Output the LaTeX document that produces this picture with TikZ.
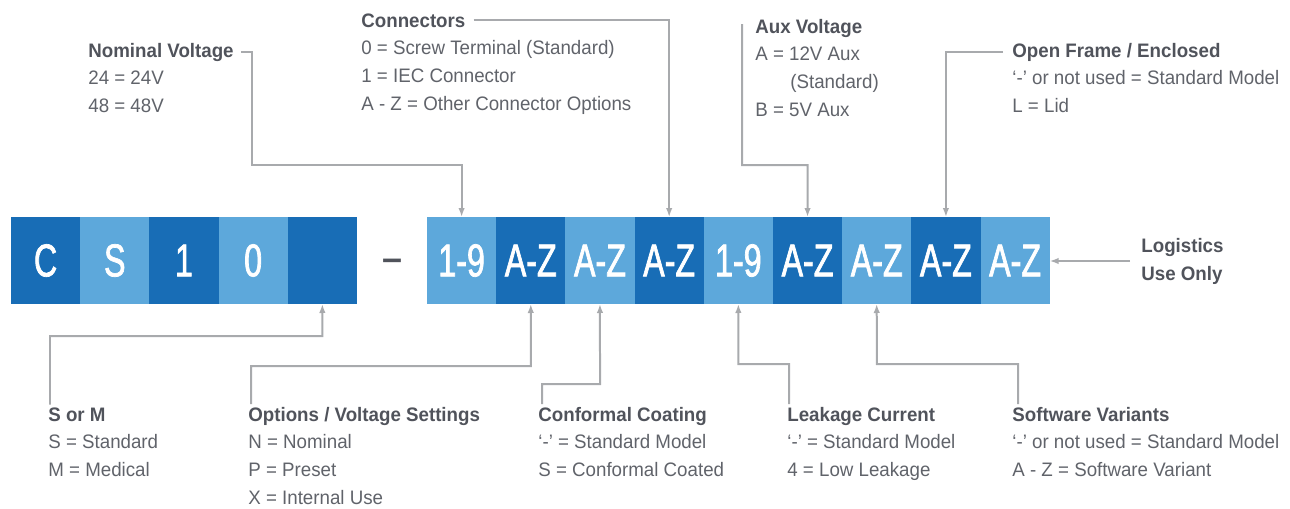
\documentclass[tikz,border=0pt]{standalone}
\usepackage{fontspec}
\setmainfont{Liberation Sans}
\newfontfamily\lblfont[FakeStretch=0.96]{Liberation Sans}
\newfontfamily\boxfont[FakeStretch=0.7, FakeBold=1.5]{Liberation Sans}
\usetikzlibrary{positioning, arrows.meta}
\definecolor{codedark}{RGB}{24,109,182}
\definecolor{codelight}{RGB}{93,168,219}
\definecolor{titlegray}{RGB}{80,83,91}
\definecolor{textgray}{RGB}{96,99,106}
\definecolor{linegray}{RGB}{168,170,173}

\begin{document}
\begin{tikzpicture}[x=0.02cm, y=-0.02cm,
  darkb/.style={fill=codedark, text=white, inner sep=0pt, outer sep=0pt,
                minimum width=1.384cm, minimum height=1.74cm,
                font=\boxfont\fontsize{26.2}{30}\selectfont},
  lightb/.style={darkb, fill=codelight},
  titlet/.style={inner sep=0pt, anchor=base west, text=titlegray,
                 font=\lblfont\bfseries\fontsize{11.1}{15.9}\selectfont},
  bodyt/.style={inner sep=0pt, anchor=north west, align=left, text=textgray,
                font=\lblfont\fontsize{11.1}{15.9}\selectfont},
  arr/.style={-{Latex[length=0.18cm, width=0.13cm]}, draw=linegray,
              line width=0.04cm, shorten <=0.05cm},
]
\useasboundingbox (0,0) rectangle (1290,508);

% Prefix boxes
\node[darkb] (pC) at (45.6,260.5) {C};
\node[lightb, right=0pt of pC] (pS) {S};
\node[darkb, right=0pt of pS] (p1) {1};
\node[lightb, right=0pt of p1] (p0) {0};
\node[darkb, right=0pt of p0] (pV) {};

% Separator
\node[anchor=base, text=titlegray, inner sep=0pt,
      font=\bfseries\fontsize{20.4}{24}\selectfont] (dash) at (392,270) {–};

% Suffix boxes
\node[lightb] (s1) at (461.6,260.5) {1-9};
\node[darkb, right=0pt of s1] (s2) {A-Z};
\node[lightb, right=0pt of s2] (s3) {A-Z};
\node[darkb, right=0pt of s3] (s4) {A-Z};
\node[lightb, right=0pt of s4] (s5) {1-9};
\node[darkb, right=0pt of s5] (s6) {A-Z};
\node[lightb, right=0pt of s6] (s7) {A-Z};
\node[darkb, right=0pt of s7] (s8) {A-Z};
\node[lightb, right=0pt of s8] (s9) {A-Z};

% Upper labels
\node[titlet] (nomT) at (88,57) {Nominal Voltage};
\node[bodyt, below=0.27cm of nomT.base west, anchor=north west] (nomB) {24 = 24V\\48 = 48V};

\node[titlet] (conT) at (361,27) {Connectors};
\node[bodyt, below=0.27cm of conT.base west, anchor=north west] (conB)
  {0 = Screw Terminal (Standard)\\1 = IEC Connector\\A - Z = Other Connector Options};

\node[titlet] (auxT) at (755,33) {Aux Voltage};
\node[bodyt, below=0.27cm of auxT.base west, anchor=north west] (auxB)
  {A = 12V Aux\\\hspace*{0.7cm}(Standard)\\B = 5V Aux};

\node[titlet] (openT) at (1012,57) {Open Frame / Enclosed};
\node[bodyt, below=0.27cm of openT.base west, anchor=north west] (openB)
  {‘-’ or not used = Standard Model\\L = Lid};

\node[titlet, anchor=west, align=left] (logT) at (1141,261) {Logistics\\Use Only};

% Lower labels
\node[titlet] (smT) at (48,421) {S or M};
\node[bodyt, below=0.27cm of smT.base west, anchor=north west] (smB)
  {S = Standard\\M = Medical};

\node[titlet] (opT) at (248,421) {Options / Voltage Settings};
\node[bodyt, below=0.27cm of opT.base west, anchor=north west] (opB)
  {N = Nominal\\P = Preset\\X = Internal Use};

\node[titlet] (cfT) at (538,421) {Conformal Coating};
\node[bodyt, below=0.27cm of cfT.base west, anchor=north west] (cfB)
  {‘-’ = Standard Model\\S = Conformal Coated};

\node[titlet] (lkT) at (787,421) {Leakage Current};
\node[bodyt, below=0.27cm of lkT.base west, anchor=north west] (lkB)
  {‘-’ = Standard Model\\4 = Low Leakage};

\node[titlet] (swT) at (1012,421) {Software Variants};
\node[bodyt, below=0.27cm of swT.base west, anchor=north west] (swB)
  {‘-’ or not used = Standard Model\\A - Z = Software Variant};

% Connectors from above
\draw[arr, shorten <=0.14cm] (nomT.east) -| (252,165) -| (s1.north);
\draw[arr, shorten <=0.16cm] (conT.east) -| (s4.north);
\draw[arr, shorten <=-0.08cm] ([xshift=-0.26cm]auxT.west) |- (807.6,165) -- (s6.north);
\draw[arr, shorten <=0.18cm] (openT.west) -| (s8.north);
\draw[arr, shorten <=0.22cm] (logT.west) -- (logT.west -| s9.east);

% Connectors from below
\draw[arr] ([xshift=0.04cm]smT.north west) |- (322.4,336) -- (pV.south);
\draw[arr] ([xshift=0.06cm]opT.north west) |- (530.8,366) -- (s2.south);
\draw[arr] ([xshift=0.08cm]cfT.north west) |- (600,384) -- (s3.south);
\draw[arr] ([xshift=0.04cm]lkT.north west) |- (738.4,364) -- (s5.south);
\draw[arr] ([xshift=0.12cm]swT.north west) |- (876.8,364) -- (s7.south);

\end{tikzpicture}
\end{document}
